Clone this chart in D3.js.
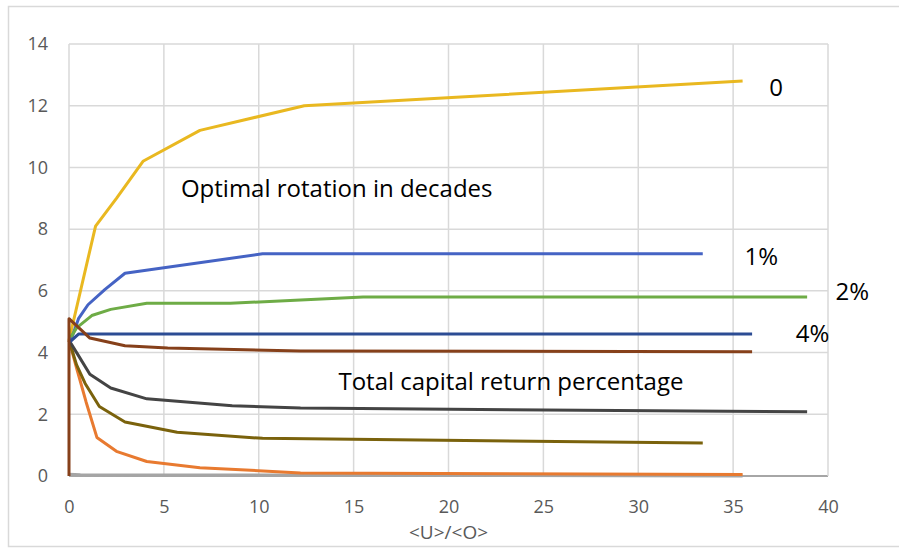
<!DOCTYPE html>
<html>
<head>
<meta charset="utf-8">
<script src="https://cdn.jsdelivr.net/npm/d3@7"></script>
<style>
  body { margin: 0; background: #fff; }
  text { font-family: "Open Sans", sans-serif; }
</style>
</head>
<body>
<div id="chart"></div>
<script>
// x ticks / y ticks
const xTicks = [0, 5, 10, 15, 20, 25, 30, 35, 40];
const yTicks = [0, 2, 4, 6, 8, 10, 12, 14];

// optimal rotation curves (decades)
const rot0 = [[0, 4.4], [1.4, 8.1], [2.5, 9.0], [3.9, 10.2], [6.9, 11.2], [12.4, 12.0], [35.5, 12.8]];
const rot1 = [[0.1, 4.4], [0.5, 5.1], [1.0, 5.55], [1.9, 6.05], [2.95, 6.57], [10.2, 7.2], [33.4, 7.2]];
const rot2 = [[0.1, 4.5], [0.4, 4.8], [1.2, 5.2], [2.2, 5.4], [4.1, 5.6], [8.5, 5.6], [12.2, 5.7], [15.5, 5.8], [38.9, 5.8]];
const rot4 = [[0.05, 4.35], [0.5, 4.6], [36, 4.6]];

// total capital return percentage
const ret0 = [[0, 0], [0, 5.1], [1.1, 4.47], [2.95, 4.22], [5.2, 4.15], [12.2, 4.05], [36, 4.03]];
const ret1 = [[0, 4.4], [0.5, 3.9], [1.1, 3.3], [2.2, 2.85], [4.1, 2.5], [8.6, 2.28], [12.2, 2.2], [38.9, 2.08]];
const ret2 = [[0, 4.4], [0.4, 3.6], [0.85, 3.0], [1.6, 2.25], [2.95, 1.75], [5.7, 1.42], [10.2, 1.22], [33.4, 1.07]];
const ret3 = [[0, 4.4], [0.4, 3.5], [0.9, 2.4], [1.47, 1.25], [2.5, 0.8], [4.1, 0.47], [6.9, 0.27], [12.2, 0.1], [35.5, 0.05]];
const ret4 = [[0, 0.06], [0.6, 0.04], [35.5, 0.0]];

const series = [
  { data: rot0, color: "#E9B820" },
  { data: rot1, color: "#4563C4" },
  { data: rot2, color: "#6EAC46" },
  { data: ret4, color: "#A5A5A5" },
  { data: ret3, color: "#E87A30" },
  { data: ret2, color: "#7A620C" },
  { data: ret1, color: "#444444" },
  { data: rot4, color: "#2C4C94" },
  { data: ret0, color: "#86401A" }
];

const labels = [
  { text: "0", x: 36.9, y: 12.3 },
  { text: "1%", x: 35.6, y: 6.84 },
  { text: "2%", x: 40.4, y: 5.7 },
  { text: "4%", x: 38.3, y: 4.34 },
  { text: "Optimal rotation in decades", x: 5.9, y: 9.04 },
  { text: "Total capital return percentage", x: 14.2, y: 2.8 }
];

const width = 899, height = 549;
const margin = { top: 44, right: 71, bottom: 73, left: 69 };

const svg = d3.select("#chart")
  .append("svg")
  .attr("width", width)
  .attr("height", height);

// outer frame
svg.append("rect")
  .attr("x", 8.5).attr("y", 6.5)
  .attr("width", 900).attr("height", 540)
  .attr("fill", "none")
  .attr("stroke", "#d9d9d9")
  .attr("stroke-width", 1.5);

const x = d3.scaleLinear().domain([0, 40]).range([margin.left, width - margin.right]);
const y = d3.scaleLinear().domain([0, 14]).range([height - margin.bottom, margin.top]);

// grid
svg.append("g")
  .selectAll("line.h")
  .data(yTicks)
  .join("line")
  .attr("x1", x(0)).attr("x2", x(40))
  .attr("y1", d => y(d)).attr("y2", d => y(d))
  .attr("stroke", d => d === 0 ? "#a6a6a6" : "#d9d9d9")
  .attr("stroke-width", d => d === 0 ? 2 : 1.5);

svg.append("g")
  .selectAll("line.v")
  .data(xTicks)
  .join("line")
  .attr("x1", d => x(d)).attr("x2", d => x(d))
  .attr("y1", y(0)).attr("y2", y(14))
  .attr("stroke", "#d9d9d9")
  .attr("stroke-width", 1.5);

// axes (labels only)
const xAxis = svg.append("g")
  .attr("transform", `translate(0,${y(0)})`)
  .call(d3.axisBottom(x).tickValues(xTicks).tickSize(0).tickPadding(24));
const yAxis = svg.append("g")
  .attr("transform", `translate(${x(0)},0)`)
  .call(d3.axisLeft(y).tickValues(yTicks).tickSize(0).tickPadding(21));
[xAxis, yAxis].forEach(g => {
  g.select(".domain").remove();
  g.selectAll("text")
    .attr("fill", "#595959")
    .style("font-size", "18px")
    .style("font-family", "'Open Sans', sans-serif");
});

svg.append("text")
  .attr("x", (x(0) + x(40)) / 2)
  .attr("y", 539)
  .attr("text-anchor", "middle")
  .attr("fill", "#595959")
  .style("font-size", "19px")
  .text("<U>/<O>");

// lines
const line = d3.line()
  .x(d => x(d[0]))
  .y(d => y(d[1]));

series.forEach(s => {
  svg.append("path")
    .datum(s.data)
    .attr("fill", "none")
    .attr("stroke", s.color)
    .attr("stroke-width", 3)
    .attr("stroke-linejoin", "round")
    .attr("d", line);
});

// annotations
svg.append("g")
  .selectAll("text")
  .data(labels)
  .join("text")
  .attr("x", d => x(d.x))
  .attr("y", d => y(d.y))
  .attr("fill", "#000")
  .style("font-size", "24px")
  .text(d => d.text);
</script>
</body>
</html>
